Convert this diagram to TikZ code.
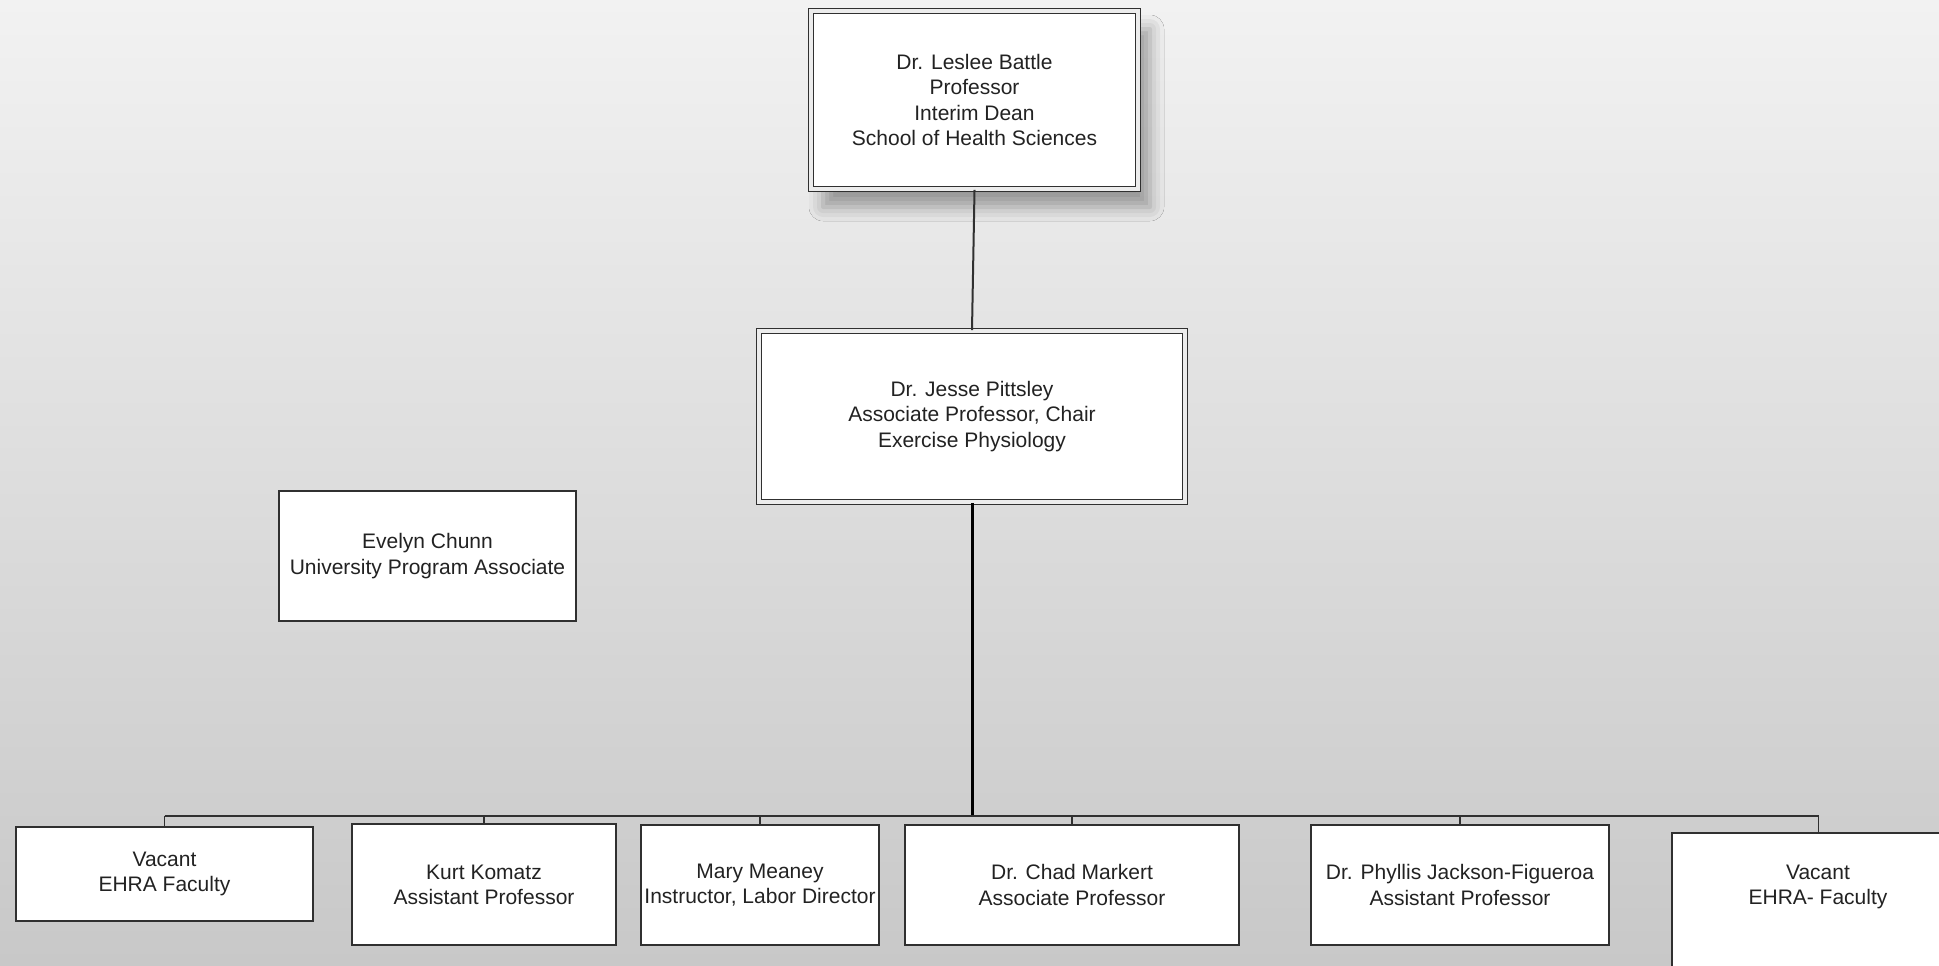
\documentclass[tikz,border=0pt]{standalone}
\usepackage{fontspec}
\setmainfont{Liberation Sans}
\usetikzlibrary{shadows.blur}
\definecolor{bgtop}{HTML}{F2F2F2}
\definecolor{bgbot}{HTML}{C8C8C8}
\definecolor{boxline}{HTML}{303030}
\definecolor{txt}{HTML}{222222}
\begin{document}
\begin{tikzpicture}[x=0.5pt,y=-0.5pt,
  box/.style={draw=boxline, line width=1pt, fill=white, inner sep=0pt, align=center,
    text=txt, font=\fontsize{10.5}{12.6}\selectfont},
  dbox/.style={box, line width=0.9pt, double=white!85!gray, double distance=1.6pt},
  drop/.style={draw=boxline, line width=0.8pt},
  busline/.style={draw=boxline, line width=1pt},
  trunk/.style={draw=black, line width=1.5pt},
  lbl/.style={text=txt, align=center, inner sep=0pt, font=\fontsize{10.5}{12.6}\selectfont}]
\clip (0,0) rectangle (1939,965);
\shade[top color=bgtop, bottom color=bgbot] (0,0) rectangle (1939,965);

\node[dbox, minimum width=163.5pt, minimum height=89pt,
  blur shadow={shadow xshift=6pt, shadow yshift=-9pt, shadow blur radius=7pt, shadow opacity=35}]
  (top) at (974.5,100) {Dr. Leslee Battle\\Professor\\Interim Dean\\School of Health Sciences};

\node[dbox, minimum width=213pt, minimum height=85.5pt] (mid) at (972,416.5)
  {Dr. Jesse Pittsley\\Associate Professor, Chair\\Exercise Physiology};

\node[box, minimum width=148.5pt, minimum height=65pt] (ev) at (427.5,556)
  {Evelyn Chunn\\University Program Associate};

\node[box, minimum width=148.5pt, minimum height=47pt] (b1) at (164.5,874) {Vacant\\EHRA Faculty};
\node[box, minimum width=132pt, minimum height=60.5pt] (b2) at (484,884.5) {Kurt Komatz\\Assistant Professor};
\node[box, minimum width=119pt, minimum height=60pt] (b3) at (760,885) {Mary Meaney\\Instructor, Labor Director};
\node[box, minimum width=167pt, minimum height=60pt] (b4) at (1072,885) {Dr. Chad Markert\\Associate Professor};
\node[box, minimum width=149pt, minimum height=60pt] (b5) at (1460,885) {Dr. Phyllis Jackson-Figueroa\\Assistant Professor};
\node[box, minimum width=146.5pt, minimum height=84pt, anchor=north] (b6) at (1818.5,832) {};
\node[lbl] (b6t) at (1818,887) {Vacant\\EHRA- Faculty};

\coordinate (bus) at (972,816);
\draw[drop, line width=1pt] (top.south) -- (mid.north);
\draw[trunk] (mid.south) -- (bus);
\draw[busline] (b1.north |- bus) -- (b6.north |- bus);
\foreach \b in {b1,b2,b3,b4,b5,b6}{
  \draw[drop] (\b.north |- bus) -- (\b.north);
}
\end{tikzpicture}
\end{document}
